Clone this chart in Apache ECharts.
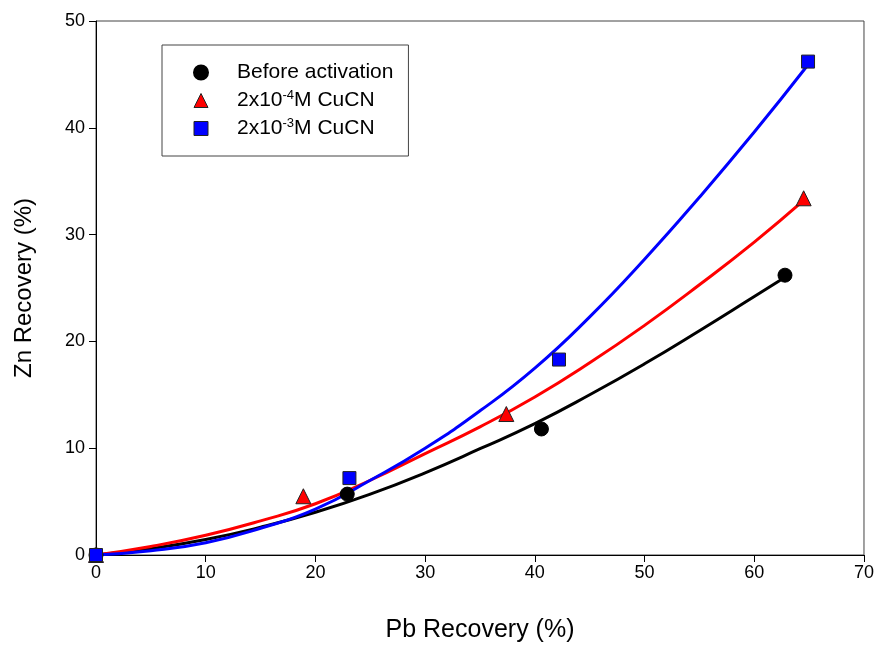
<!DOCTYPE html>
<html>
<head>
<meta charset="utf-8">
<script src="https://cdn.jsdelivr.net/npm/echarts@6/dist/echarts.min.js"></script>
<style>
html,body{margin:0;padding:0;background:#fff;}
#chart{width:877px;height:648px;}
</style>
</head>
<body>
<div id="chart"></div>
<script>
// Measured points
const beforeX = [0, 22.9, 40.6, 62.8];
const beforeY = [0, 5.7, 11.8, 26.2];
const cu4X = [0, 18.9, 37.4, 64.5];
const cu4Y = [0, 5.5, 13.2, 33.4];
const cu3X = [0, 23.1, 42.2, 64.9];
const cu3Y = [0, 7.2, 18.3, 46.2];

// Fitted curves
const beforeCurveX = [0, 5, 10, 15, 20, 25, 30, 35, 40, 45, 50, 55, 60, 62.8];
const beforeCurveY = [0, 0.6, 1.45, 2.6, 4.0, 5.7, 7.7, 9.95, 12.3, 15.0, 17.9, 21.0, 24.2, 26.0];
const cu4CurveX = [0, 5, 10, 15, 20, 25, 30, 35, 40, 45, 50, 55, 60, 64.5];
const cu4CurveY = [0, 0.8, 1.85, 3.2, 4.8, 7.0, 9.5, 12.0, 14.8, 18.0, 21.5, 25.3, 29.3, 33.2];
const cu3CurveX = [0, 5, 10, 15, 20, 25, 30, 35, 40, 45, 50, 55, 60, 64.9];
const cu3CurveY = [0, 0.4, 1.15, 2.5, 4.3, 7.0, 10.0, 13.5, 17.5, 22.3, 27.7, 33.5, 39.6, 45.9];

const xTicks = [0, 10, 20, 30, 40, 50, 60, 70];
const yTicks = [0, 10, 20, 30, 40, 50];

const names = ['Before activation', '2x10{sup|-4}M CuCN', '2x10{sup|-3}M CuCN'];

function pairs(xs, ys) { return xs.map((x, i) => [x, ys[i]]); }

const FONT = 'Liberation Sans, Arial, sans-serif';
const chart = echarts.init(document.getElementById('chart'), null, {renderer: 'canvas'});

const lineCommon = {type: 'line', smooth: 0.5, symbol: 'none', silent: true, z: 2};

chart.setOption({
  animation: false,
  backgroundColor: '#fff',
  grid: {left: 96, right: 11, top: 21, bottom: 88, show: true, borderColor: '#444', borderWidth: 1},
  legend: {
    left: 162, top: 45,
    orient: 'vertical',
    backgroundColor: '#fff',
    borderColor: '#444', borderWidth: 1,
    padding: [17, 15, 17, 31],
    itemWidth: 14, itemHeight: 14, itemGap: 6,
    data: [
      {name: names[0], icon: 'circle', itemStyle: {color: '#000', borderColor: '#000', opacity: 1}},
      {name: names[1], icon: 'triangle', itemStyle: {color: '#ff0000', borderColor: '#222', borderWidth: 1, opacity: 1}},
      {name: names[2], icon: 'rect', itemStyle: {color: '#0000ff', borderColor: '#222', borderWidth: 1, opacity: 1}}
    ],
    textStyle: {
      fontFamily: FONT, fontSize: 21, color: '#000',
      padding: [0, 0, 0, 24],
      rich: {sup: {fontSize: 13, fontFamily: FONT, verticalAlign: 'top', padding: [0, 0, 10, 0], color: '#000'}}
    }
  },
  xAxis: {
    type: 'value', min: 0, max: 70, interval: 10,
    name: 'Pb Recovery (%)', nameLocation: 'middle', nameGap: 63,
    nameTextStyle: {fontFamily: FONT, fontSize: 25, color: '#000'},
    axisLine: {onZero: false, lineStyle: {color: '#000', width: 1}},
    axisTick: {show: true, inside: false, length: 7, lineStyle: {color: '#000'}},
    axisLabel: {fontFamily: FONT, fontSize: 18, color: '#000', margin: 9,
      formatter: v => xTicks.includes(v) ? String(v) : ''},
    splitLine: {show: false}
  },
  yAxis: {
    type: 'value', min: 0, max: 50, interval: 10,
    name: 'Zn Recovery (%)', nameLocation: 'middle', nameGap: 60,
    nameTextStyle: {fontFamily: FONT, fontSize: 24, color: '#000'},
    axisLine: {onZero: false, lineStyle: {color: '#000', width: 1}},
    axisTick: {show: true, inside: false, length: 7, lineStyle: {color: '#000'}},
    axisLabel: {fontFamily: FONT, fontSize: 18, color: '#000', margin: 11,
      formatter: v => yTicks.includes(v) ? String(v) : ''},
    splitLine: {show: false}
  },
  series: [
    Object.assign({}, lineCommon, {name: 'c0', data: pairs(beforeCurveX, beforeCurveY), lineStyle: {color: '#000', width: 3}}),
    Object.assign({}, lineCommon, {name: 'c1', data: pairs(cu4CurveX, cu4CurveY), lineStyle: {color: '#ff0000', width: 3}}),
    Object.assign({}, lineCommon, {name: 'c2', data: pairs(cu3CurveX, cu3CurveY), lineStyle: {color: '#0000ff', width: 3}}),
    {type: 'scatter', name: names[0], data: pairs(beforeX, beforeY), symbol: 'circle', symbolSize: 14, z: 5,
      itemStyle: {color: '#000', borderColor: '#000', borderWidth: 1, opacity: 1}},
    {type: 'scatter', name: names[1], data: pairs(cu4X, cu4Y), symbol: 'triangle', symbolSize: 15, z: 5,
      itemStyle: {color: '#ff0000', borderColor: '#222', borderWidth: 1, opacity: 1}},
    {type: 'scatter', name: names[2], data: pairs(cu3X, cu3Y), symbol: 'rect', symbolSize: 13, z: 6,
      itemStyle: {color: '#0000ff', borderColor: '#222', borderWidth: 1, opacity: 1}}
  ]
});
</script>
</body>
</html>
